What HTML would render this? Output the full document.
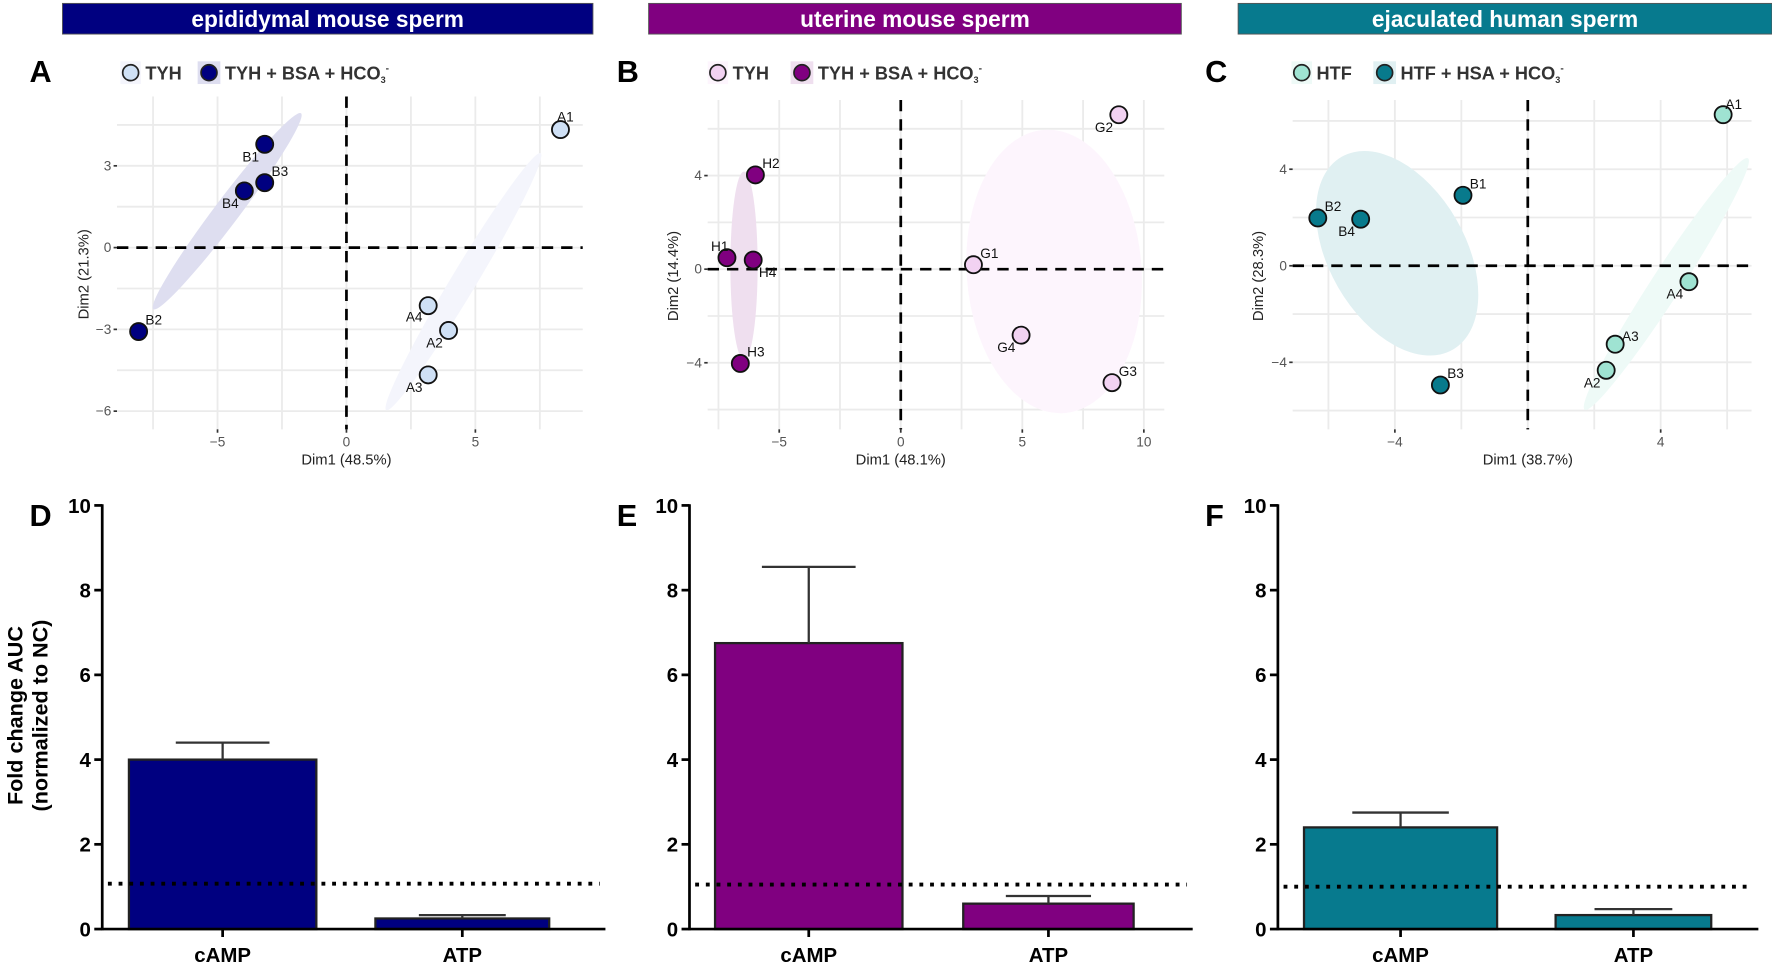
<!DOCTYPE html>
<html><head><meta charset="utf-8"><style>
html,body{margin:0;padding:0;background:#fff;}
svg{display:block;font-family:"Liberation Sans",Arial,sans-serif;}
</style></head><body>
<svg id="fig" width="1772" height="962" viewBox="0 0 1560 847" preserveAspectRatio="none" xmlns="http://www.w3.org/2000/svg">
<g><rect x="55" y="3" width="467" height="27" fill="#000080" stroke="#555" stroke-width="0.8"/><text x="288.5" y="24" text-anchor="middle" font-size="20" font-weight="bold" fill="#fff">epididymal mouse sperm</text></g>
<g><rect x="571" y="3" width="469" height="27" fill="#800080" stroke="#555" stroke-width="0.8"/><text x="805.5" y="24" text-anchor="middle" font-size="20" font-weight="bold" fill="#fff">uterine mouse sperm</text></g>
<g><rect x="1090" y="3" width="470" height="27" fill="#077a8e" stroke="#555" stroke-width="0.8"/><text x="1325" y="24" text-anchor="middle" font-size="20" font-weight="bold" fill="#fff">ejaculated human sperm</text></g>
<g id="root"></g>
</svg>
<script>
// ---- PCA data ----
const pcaA_labels = ["A1","A2","A3","A4","B1","B2","B3","B4"];
const pcaA_x = [8.3, 3.96, 3.17, 3.17, -3.17, -8.06, -3.17, -3.96];
const pcaA_y = [4.33, -3.04, -4.67, -2.13, 3.79, -3.08, 2.38, 2.08];
const pcaA_group = [0,0,0,0,1,1,1,1];
const pcaB_labels = ["H1","H2","H3","H4","G1","G2","G3","G4"];
const pcaB_x = [-7.15, -5.98, -6.6, -6.07, 2.99, 8.97, 8.69, 4.95];
const pcaB_y = [0.49, 4.03, -4.03, 0.39, 0.19, 6.6, -4.85, -2.82];
const pcaB_group = [1,1,1,1,0,0,0,0];
const pcaC_labels = ["B1","B2","B3","B4","A1","A2","A3","A4"];
const pcaC_x = [-1.95, -6.32, -2.63, -5.03, 5.88, 2.36, 2.63, 4.85];
const pcaC_y = [2.92, 1.98, -4.94, 1.93, 6.26, -4.33, -3.25, -0.66];
const pcaC_group = [1,1,1,1,0,0,0,0];
// ---- bar data ----
const barCategories = ["cAMP","ATP"];
const barD_values = [4.0, 0.25];
const barD_errors = [0.4, 0.08];
const barE_values = [6.75, 0.6];
const barE_errors = [1.8, 0.18];
const barF_values = [2.4, 0.33];
const barF_errors = [0.35, 0.14];
const barD_ref = 1.07, barE_ref = 1.05, barF_ref = 1.0;
const barTicks = [0,2,4,6,8,10];

const NS="http://www.w3.org/2000/svg";
const root=document.getElementById('root');
function mk(tag,attrs,parent,text){const e=document.createElementNS(NS,tag);for(const k in attrs)e.setAttribute(k,attrs[k]);if(text!==undefined)e.textContent=text;(parent||root).appendChild(e);return e;}

function pca(cfg){
  const g=mk('g',{});
  
  
  const X=v=>cfg.zx+v*cfg.kx, Y=v=>cfg.zy-v*cfg.ky;
  const L=mk('text',{x:cfg.letterX,y:72,'font-size':27,'font-weight':'bold',fill:'#000'},g,cfg.letter);
  
  
  const lg=mk('g',{},g);
  
  
  const lx=cfg.legX;
  mk('rect',{x:lx-9,y:54,width:18,height:20,fill:cfg.ell[0]},lg);
  mk('circle',{cx:lx,cy:64,r:7,fill:cfg.col[0],stroke:'#222','stroke-width':1.5},lg);
  mk('text',{x:lx+13,y:70,'font-size':16,'font-weight':'bold',fill:'#333'},lg,cfg.leg[0]);
  const lx2=cfg.legX2;
  mk('rect',{x:lx2-10,y:54,width:20,height:20,fill:cfg.ell[1]},lg);
  mk('circle',{cx:lx2,cy:64,r:7,fill:cfg.col[1],stroke:'#222','stroke-width':1.5},lg);
  const t=mk('text',{x:lx2+14,y:70,'font-size':16,'font-weight':'bold',fill:'#333'},lg,cfg.leg[1]);
  mk('tspan',{'font-size':8,dy:3},t,'3');
  mk('tspan',{'font-size':9,dy:-10},t,'-');
  const r=cfg.rect;
  cfg.gx.forEach(v=>{const l=mk('line',{x1:X(v),x2:X(v),y1:r[1],y2:r[3],stroke:'#ebebeb','stroke-width':1.6},g);});
  cfg.gy.forEach(v=>{const l=mk('line',{x1:r[0],x2:r[2],y1:Y(v),y2:Y(v),stroke:'#ebebeb','stroke-width':1.6},g);});
  cfg.ellipses.forEach((e,i)=>{const el=mk('ellipse',{cx:e[0],cy:e[1],rx:e[2],ry:e[3],transform:`rotate(${e[4]} ${e[0]} ${e[1]})`,fill:cfg.ell[e[5]]},g);});
  mk('line',{x1:r[0],x2:r[2],y1:Y(0),y2:Y(0),stroke:'#000','stroke-width':2.4,'stroke-dasharray':'10 7'},g);
  mk('line',{x1:X(0),x2:X(0),y1:r[1],y2:r[3],stroke:'#000','stroke-width':2.4,'stroke-dasharray':'10 7'},g);
  cfg.tx.forEach(v=>{mk('line',{x1:X(v),x2:X(v),y1:r[3],y2:r[3]+3,stroke:'#333','stroke-width':1.5},g);const tl=mk('text',{x:X(v),y:r[3]+15,'font-size':12,fill:'#555','text-anchor':'middle'},g,v<0?'\u2212'+(-v):String(v));});
  cfg.ty.forEach(v=>{mk('line',{x1:r[0]-3,x2:r[0],y1:Y(v),y2:Y(v),stroke:'#333','stroke-width':1.5},g);const tl=mk('text',{x:r[0]-5,y:Y(v)+4,'font-size':12,fill:'#555','text-anchor':'end'},g,v<0?'\u2212'+(-v):String(v));});
  const xt=mk('text',{x:X(0),y:r[3]+31,'font-size':13,fill:'#222','text-anchor':'middle'},g,cfg.xt);
  
  
  const cy=(r[1]+r[3])/2+10;
  const yt=mk('text',{x:cfg.ytX,y:cy,'font-size':13,fill:'#222','text-anchor':'middle',transform:`rotate(-90 ${cfg.ytX} ${cy})`},g,cfg.yt);
  
  
  cfg.xs.forEach((xv,i)=>{
    const px=X(xv),py=Y(cfg.ys[i]);
    const c=mk('circle',{cx:px,cy:py,r:7.5,fill:cfg.col[cfg.grp[i]],stroke:'#111','stroke-width':1.6},g);
    
    
    const o=cfg.off[i];
    const tl=mk('text',{x:px+o[0],y:py+o[1],'font-size':12,fill:'#111','text-anchor':o[2]},g,cfg.labels[i]);
    
    
  });
}

pca({name:'pca-panel-a',letter:'A',letterX:26,legX:115,legX2:184,leg:['TYH','TYH + BSA + HCO'],
  col:['#cfe0f5','#000080'],ell:['#f4f5fc','#dedef0'],
  zx:305,kx:22.7,zy:218,ky:24,rect:[103,85,513,378],
  gx:[-7.5,-5,-2.5,0,2.5,5,7.5],gy:[4.5,3,1.5,0,-1.5,-3,-4.5,-6],tx:[-5,0,5],ty:[3,0,-3,-6],
  xt:'Dim1 (48.5%)',yt:'Dim2 (21.3%)',ytX:78,
  ellipses:[[408,248,11,132,31,0],[200,186,11,108,37,1]],
  xs:pcaA_x,ys:pcaA_y,grp:pcaA_group,labels:pcaA_labels,
  off:[[-3,-7,'start'],[-5,15,'end'],[-5,15,'end'],[-5,14,'end'],[-5,15,'end'],[6,-6,'start'],[6,-6,'start'],[-5,15,'end']]});

pca({name:'pca-panel-b',letter:'B',letterX:543,legX:632,legX2:706,leg:['TYH','TYH + BSA + HCO'],
  col:['#f2d2f2','#800080'],ell:['#fdf5fd','#efdfef'],
  zx:793,kx:21.4,zy:237,ky:20.6,rect:[623,88,1025,378],
  gx:[-7.5,-5,-2.5,0,2.5,5,7.5,10],gy:[6,4,2,0,-2,-4,-6],tx:[-5,0,5,10],ty:[4,0,-4],
  xt:'Dim1 (48.1%)',yt:'Dim2 (14.4%)',ytX:597,
  ellipses:[[655,234,12,83,0,1],[928,239,77,125,-4,0]],
  xs:pcaB_x,ys:pcaB_y,grp:pcaB_group,labels:pcaB_labels,
  off:[[-14,-6,'start'],[6,-6,'start'],[6,-6,'start'],[5,15,'start'],[6,-6,'start'],[-5,15,'end'],[6,-6,'start'],[-5,15,'end']]});

pca({name:'pca-panel-c',letter:'C',letterX:1061,legX:1146,legX2:1219,leg:['HTF','HTF + HSA + HCO'],
  col:['#9fe3d2','#087a8c'],ell:['#eefaf7','#e0f0f2'],
  zx:1345,kx:29.25,zy:234,ky:21.25,rect:[1138,88,1542,378],
  gx:[-6,-4,-2,0,2,4,6],gy:[6,4,2,0,-2,-4,-6],tx:[-4,4],ty:[4,0,-4],
  xt:'Dim1 (38.7%)',yt:'Dim2 (28.3%)',ytX:1112,
  ellipses:[[1230,223,60,98,-30,1],[1467,250,13,132,33,0]],
  xs:pcaC_x,ys:pcaC_y,grp:pcaC_group,labels:pcaC_labels,
  off:[[6,-6,'start'],[6,-6,'start'],[6,-6,'start'],[-5,15,'end'],[2,-5,'start'],[-5,15,'end'],[6,-3,'start'],[-5,15,'end']]});

function bars(cfg){
  const g=mk('g',{});
  
  
  const y0=818,k=37.3;const Y=v=>y0-v*k;
  const L=mk('text',{x:cfg.letterX,y:463,'font-size':27,'font-weight':'bold',fill:'#000'},g,cfg.letter);
  
  
  barTicks.forEach(v=>{
    mk('line',{x1:cfg.ax-7,x2:cfg.ax,y1:Y(v),y2:Y(v),stroke:'#000','stroke-width':2.4},g);
    const t=mk('text',{x:cfg.ax-10,y:Y(v)+6.5,'font-size':18,'font-weight':'bold','text-anchor':'end',fill:'#000'},g,String(v));
    
    
  });
  const bw=cfg.bw, step=cfg.step;
  cfg.vals.forEach((v,i)=>{
    const cx=cfg.first+i*step;
    const r=mk('rect',{x:cx-bw[i]/2,y:Y(v),width:bw[i],height:y0-Y(v),fill:cfg.col,stroke:'#222','stroke-width':2},g);
    
    
    const e=mk('g',{},g);
    
    
    mk('line',{x1:cx,x2:cx,y1:Y(v),y2:Y(v+cfg.errs[i]),stroke:'#333','stroke-width':2},e);
    mk('line',{x1:cx-bw[i]*0.25,x2:cx+bw[i]*0.25,y1:Y(v+cfg.errs[i]),y2:Y(v+cfg.errs[i]),stroke:'#333','stroke-width':2},e);
    mk('line',{x1:cx,x2:cx,y1:y0,y2:y0+7,stroke:'#000','stroke-width':2.4},g);
    const t=mk('text',{x:cx,y:y0+29,'font-size':18,'font-weight':'bold','text-anchor':'middle',fill:'#000'},g,barCategories[i]);
    
    
  });
  const d=mk('line',{x1:cfg.ax+5,x2:cfg.xend-5,y1:Y(cfg.ref),y2:Y(cfg.ref),stroke:'#000','stroke-width':3.4,'stroke-dasharray':'3.4 6'},g);
  
  
  mk('line',{x1:cfg.ax,x2:cfg.ax,y1:Y(10)-1,y2:y0+1,stroke:'#000','stroke-width':2.4},g);
  mk('line',{x1:cfg.ax,x2:cfg.xend,y1:y0,y2:y0,stroke:'#000','stroke-width':2.4},g);
}
bars({name:'bar-panel-d',letter:'D',letterX:26,ax:90,xend:533,first:196,step:211,bw:[165,153],vals:barD_values,errs:barD_errors,ref:barD_ref,col:'#000080'});
bars({name:'bar-panel-e',letter:'E',letterX:543,ax:607,xend:1050,first:712,step:211,bw:[165,150],vals:barE_values,errs:barE_errors,ref:barE_ref,col:'#800080'});
bars({name:'bar-panel-f',letter:'F',letterX:1061,ax:1125,xend:1548,first:1233,step:205,bw:[170,137],vals:barF_values,errs:barF_errors,ref:barF_ref,col:'#077a8e'});

const yt=mk('text',{x:0,y:0,'font-size':19,'font-weight':'bold','text-anchor':'middle',fill:'#000',transform:'translate(20 630) rotate(-90)'});


mk('tspan',{x:0,dy:0},yt,'Fold change AUC');
mk('tspan',{x:0,dy:22},yt,'(normalized to NC)');
</script>
</body></html>
